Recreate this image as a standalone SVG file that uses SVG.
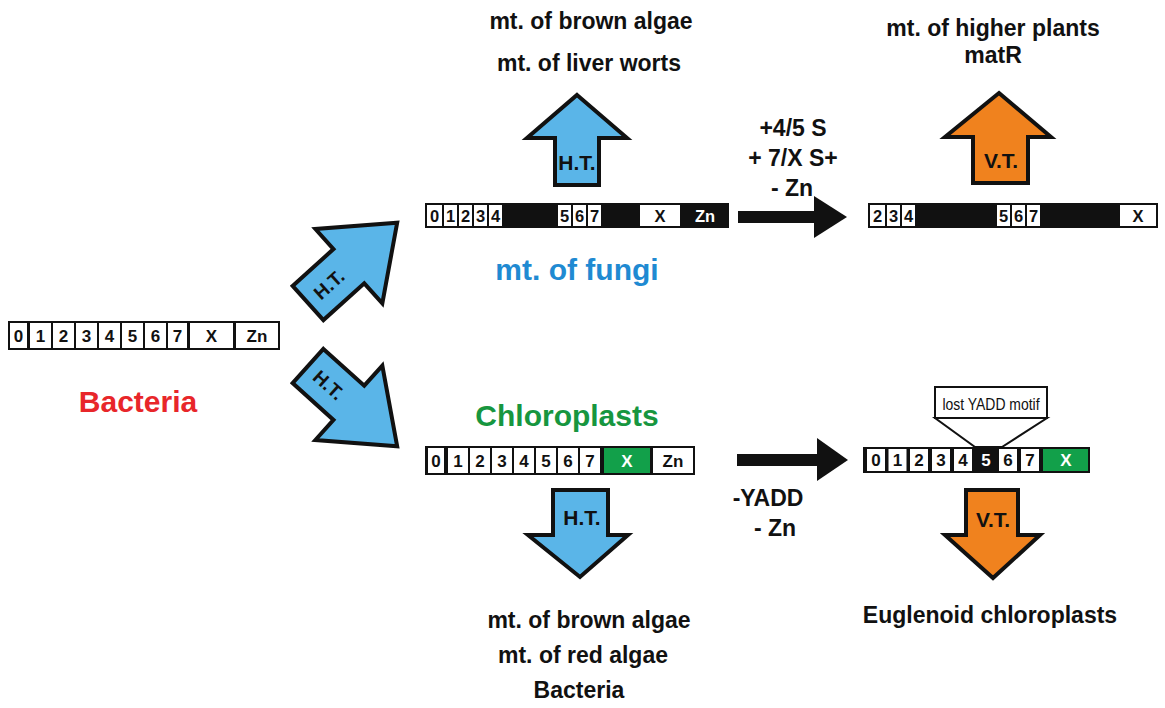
<svg xmlns="http://www.w3.org/2000/svg" width="1165" height="708" viewBox="0 0 1165 708">
<style>
.lbl{font-family:"Liberation Sans",Arial,sans-serif;font-weight:bold;text-anchor:middle;fill:#111}
.big{font-size:23px}
.title{font-size:30px}
.cell{fill:#fff}
.g{fill:#12a04a}
.d16{font-family:"Liberation Sans",Arial,sans-serif;font-weight:bold;font-size:17px;text-anchor:middle;fill:#111}
.d14{font-family:"Liberation Sans",Arial,sans-serif;font-weight:bold;font-size:16.5px;text-anchor:middle;fill:#111}
.blk{stroke:#111;stroke-width:4;stroke-linejoin:miter}
.blue{fill:#5ab5e8}
.orange{fill:#f0821e}
.at{font-family:"Liberation Sans",Arial,sans-serif;font-weight:bold;font-size:21px;text-anchor:middle;fill:#111}
</style>

<g id="bacteria">
<rect x="8" y="321" width="272" height="29" fill="#111"/>
<rect class="cell" x="10" y="323" width="17" height="25"/>
<rect class="cell" x="30" y="323" width="21" height="25"/>
<rect class="cell" x="53" y="323" width="21" height="25"/>
<rect class="cell" x="76" y="323" width="21" height="25"/>
<rect class="cell" x="99" y="323" width="21" height="25"/>
<rect class="cell" x="122" y="323" width="21" height="25"/>
<rect class="cell" x="145" y="323" width="21" height="25"/>
<rect class="cell" x="168" y="323" width="19" height="25"/>
<rect class="cell" x="190" y="323" width="43" height="25"/>
<rect class="cell" x="236" y="323" width="42" height="25"/>
<text class="d16" x="18.5" y="342">0</text>
<text class="d16" x="40.5" y="342">1</text>
<text class="d16" x="63.5" y="342">2</text>
<text class="d16" x="86.5" y="342">3</text>
<text class="d16" x="109.5" y="342">4</text>
<text class="d16" x="132.5" y="342">5</text>
<text class="d16" x="155.5" y="342">6</text>
<text class="d16" x="177.5" y="342">7</text>
<text class="d16" x="211.5" y="342">X</text>
<text class="d16" x="257" y="342">Zn</text>
<text class="lbl title" x="138" y="412" style="fill:#e8262a">Bacteria</text>
</g>

<g id="fungi">
<rect x="425" y="203" width="304" height="25" fill="#111"/>
<rect class="cell" x="427" y="205" width="15" height="21"/>
<rect class="cell" x="444" y="205" width="13" height="21"/>
<rect class="cell" x="459" y="205" width="13" height="21"/>
<rect class="cell" x="474" y="205" width="13" height="21"/>
<rect class="cell" x="489" y="205" width="13" height="21"/>
<rect class="cell" x="558" y="205" width="13" height="21"/>
<rect class="cell" x="573" y="205" width="13" height="21"/>
<rect class="cell" x="588" y="205" width="13" height="21"/>
<rect class="cell" x="640" y="205" width="40" height="21"/>
<text class="d14" x="434.5" y="222">0</text>
<text class="d14" x="450.5" y="222">1</text>
<text class="d14" x="465.5" y="222">2</text>
<text class="d14" x="480.5" y="222">3</text>
<text class="d14" x="495.5" y="222">4</text>
<text class="d14" x="564.5" y="222">5</text>
<text class="d14" x="579.5" y="222">6</text>
<text class="d14" x="594.5" y="222">7</text>
<text class="d14" x="660" y="222">X</text>
<text class="d14" x="705" y="222" style="fill:#fff">Zn</text>
<text class="lbl title" x="577" y="280" style="fill:#1f8ad2">mt. of fungi</text>
</g>

<g id="higher-plants">
<rect x="868" y="203" width="290" height="25" fill="#111"/>
<rect class="cell" x="870" y="205" width="15" height="21"/>
<rect class="cell" x="887" y="205" width="13" height="21"/>
<rect class="cell" x="902" y="205" width="13" height="21"/>
<rect class="cell" x="997" y="205" width="13" height="21"/>
<rect class="cell" x="1012" y="205" width="13" height="21"/>
<rect class="cell" x="1027" y="205" width="13" height="21"/>
<rect class="cell" x="1120" y="205" width="36" height="21"/>
<text class="d14" x="877.5" y="222">2</text>
<text class="d14" x="893.5" y="222">3</text>
<text class="d14" x="908.5" y="222">4</text>
<text class="d14" x="1003.5" y="222">5</text>
<text class="d14" x="1018.5" y="222">6</text>
<text class="d14" x="1033.5" y="222">7</text>
<text class="d14" x="1138" y="222">X</text>
</g>

<g id="chloroplasts">
<rect x="425" y="446" width="270" height="29" fill="#111"/>
<rect class="cell" x="428" y="448" width="16" height="25"/>
<rect class="cell" x="448" y="448" width="20" height="25"/>
<rect class="cell" x="470" y="448" width="20" height="25"/>
<rect class="cell" x="492" y="448" width="20" height="25"/>
<rect class="cell" x="514" y="448" width="20" height="25"/>
<rect class="cell" x="536" y="448" width="20" height="25"/>
<rect class="cell" x="558" y="448" width="20" height="25"/>
<rect class="cell" x="580" y="448" width="20" height="25"/>
<rect class="g" x="604" y="448" width="46" height="25"/>
<rect class="cell" x="653" y="448" width="40" height="25"/>
<text class="d16" x="436" y="467">0</text>
<text class="d16" x="458" y="467">1</text>
<text class="d16" x="480" y="467">2</text>
<text class="d16" x="502" y="467">3</text>
<text class="d16" x="524" y="467">4</text>
<text class="d16" x="546" y="467">5</text>
<text class="d16" x="568" y="467">6</text>
<text class="d16" x="590" y="467">7</text>
<text class="d16" x="627" y="467" style="fill:#fff">X</text>
<text class="d16" x="673" y="467">Zn</text>
<text class="lbl title" x="567" y="426" style="fill:#17963f">Chloroplasts</text>
</g>

<g id="euglenoid">
<rect x="863" y="447" width="227" height="26" fill="#111"/>
<rect class="cell" x="867" y="449" width="18" height="22"/>
<rect class="cell" x="888.5" y="449" width="18" height="22"/>
<rect class="cell" x="910" y="449" width="18" height="22"/>
<rect class="cell" x="932" y="449" width="18" height="22"/>
<rect class="cell" x="954" y="449" width="18" height="22"/>
<rect class="cell" x="999" y="449" width="18" height="22"/>
<rect class="cell" x="1021" y="449" width="18" height="22"/>
<rect class="g" x="1043" y="449" width="45" height="22"/>
<text class="d16" x="876" y="466">0</text>
<text class="d16" x="897.5" y="466">1</text>
<text class="d16" x="919" y="466">2</text>
<text class="d16" x="941" y="466">3</text>
<text class="d16" x="963" y="466">4</text>
<text class="d16" x="986" y="466" style="fill:#fff">5</text>
<text class="d16" x="1008" y="466">6</text>
<text class="d16" x="1030" y="466">7</text>
<text class="d16" x="1066" y="466" style="fill:#fff">X</text>
<polygon points="935,418 1047,418 1002,447 975,447" fill="#fff" stroke="#111" stroke-width="2"/>
<rect x="935" y="387" width="112" height="31" fill="#fff" stroke="#111" stroke-width="2"/>
<text x="991" y="410" textLength="97" lengthAdjust="spacingAndGlyphs" style="font-family:'Liberation Sans',Arial,sans-serif;font-size:16px;text-anchor:middle;fill:#111">lost YADD motif</text>
</g>

<g id="labels">
<text class="lbl big" x="591" y="29">mt. of brown algae</text>
<text class="lbl big" x="589" y="71">mt. of liver worts</text>
<text class="lbl big" x="993" y="36">mt. of higher plants</text>
<text class="lbl big" x="993" y="63">matR</text>
<text class="lbl big" x="793" y="136">+4/5 S</text>
<text class="lbl big" x="793" y="166">+ 7/X S+</text>
<text class="lbl big" x="792" y="196">- Zn</text>
<text class="lbl big" x="768" y="506">-YADD</text>
<text class="lbl big" x="775" y="536">- Zn</text>
<text class="lbl big" x="589" y="628">mt. of brown algae</text>
<text class="lbl big" x="583" y="663">mt. of red algae</text>
<text class="lbl big" x="579" y="698">Bacteria</text>
<text class="lbl big" x="990" y="623">Euglenoid chloroplasts</text>
</g>

<g id="connectors">
<g id="diag-up" transform="translate(308,303) rotate(-42)">
<path class="blk blue" d="M0,-23 L55,-23 L55,-50 L120,0 L55,50 L55,23 L0,23 Z"/>
<text class="at" x="28" y="7" style="font-size:19px">H.T.</text>
</g>
<g id="diag-down" transform="translate(308,366) rotate(42)">
<path class="blk blue" d="M0,-23 L55,-23 L55,-50 L120,0 L55,50 L55,23 L0,23 Z"/>
<text class="at" x="28" y="7" style="font-size:19px">H.T.</text>
</g>
<g id="ht-up">
<path class="blk blue" d="M577,95 L627,138 L599,138 L599,185 L555,185 L555,138 L527,138 Z"/>
<text class="at" x="577" y="170">H.T.</text>
</g>
<g id="vt-up">
<path class="blk orange" d="M999,93 L1051,137 L1028,137 L1028,183 L973,183 L973,137 L945,137 Z"/>
<text class="at" x="1001" y="168">V.T.</text>
</g>
<g id="ht-down">
<path class="blk blue" d="M553,490 L608,490 L608,535 L628,535 L580,577 L528,535 L553,535 Z"/>
<text class="at" x="582" y="525">H.T.</text>
</g>
<g id="vt-down">
<path class="blk orange" d="M966,490 L1018,490 L1018,535 L1040,535 L993,578 L945,535 L966,535 Z"/>
<text class="at" x="993" y="527">V.T.</text>
</g>
<g id="arrow-fungi-plants" fill="#111">
<rect x="738" y="211" width="78" height="12"/>
<polygon points="814,196 847,217 814,238"/>
</g>
<g id="arrow-chloro-eugl" fill="#111">
<rect x="737" y="454" width="82" height="12"/>
<polygon points="817,438 848,460 817,481"/>
</g>
</g>
</svg>
